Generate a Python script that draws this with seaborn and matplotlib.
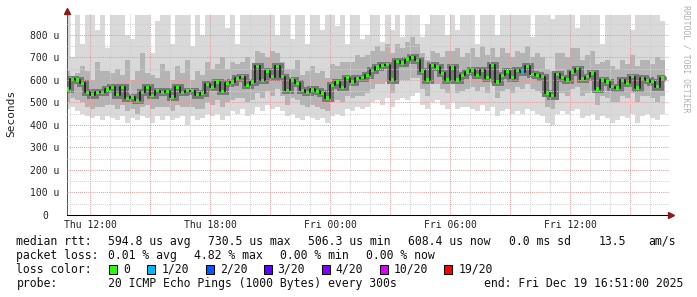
import numpy as np
import pandas as pd
import matplotlib
matplotlib.use("Agg")
import matplotlib.pyplot as plt
import matplotlib.dates as mdates
from matplotlib.patches import Rectangle
from matplotlib.ticker import MultipleLocator, FuncFormatter
import seaborn as sns

# ---------------- data ----------------
start_time = "2025-12-18 10:52:30"
sample_step = "15min"

median_us = [
    560, 602, 600, 585, 545, 535, 545, 545, 560, 567,
    535, 567, 518, 525, 510, 545, 567, 532, 552, 545,
    549, 525, 567, 545, 552, 552, 535, 540, 580, 567,
    590, 550, 585, 590, 607, 615, 576, 590, 660, 598,
    640, 615, 660, 615, 554, 600, 585, 554, 545, 558,
    550, 540, 520, 576, 590, 567, 610, 590, 607, 610,
    620, 642, 657, 665, 668, 600, 682, 675, 690, 700,
    687, 640, 600, 665, 657, 629, 600, 657, 600, 620,
    635, 645, 620, 642, 610, 665, 590, 620, 638, 610,
    642, 635, 660, 625, 620, 615, 540, 530, 625, 610,
    600, 635, 650, 605, 615, 630, 560, 600, 590, 570,
    565, 598, 585, 615, 565, 607, 598, 592, 570, 608,
]
max_us = [
    890, 700, 890, 760, 890, 890, 820, 890, 740, 890,
    890, 890, 800, 780, 890, 890, 890, 720, 860, 890,
    890, 760, 890, 890, 890, 750, 890, 800, 890, 890,
    890, 890, 830, 890, 760, 890, 890, 890, 890, 890,
    890, 890, 800, 890, 890, 780, 890, 890, 760, 890,
    890, 820, 890, 890, 840, 890, 760, 890, 890, 780,
    800, 890, 890, 770, 890, 820, 890, 790, 890, 890,
    890, 790, 850, 890, 890, 890, 800, 890, 820, 890,
    890, 890, 760, 890, 890, 890, 800, 890, 890, 890,
    890, 890, 890, 790, 890, 890, 890, 870, 890, 890,
    890, 890, 830, 890, 890, 890, 890, 760, 890, 890,
    890, 890, 890, 820, 890, 890, 890, 890, 890, 860,
]
upper_us = [
    640, 610, 630, 660, 640, 600, 680, 640, 640, 630,
    650, 620, 690, 600, 640, 720, 630, 620, 610, 670,
    640, 600, 660, 630, 690, 600, 640, 620, 680, 650,
    670, 700, 650, 680, 670, 680, 700, 650, 730, 720,
    700, 730, 720, 680, 650, 650, 690, 620, 640, 660,
    630, 640, 610, 670, 660, 680, 680, 680, 710, 700,
    710, 730, 750, 730, 760, 720, 760, 740, 770, 790,
    760, 720, 690, 730, 720, 700, 730, 730, 740, 700,
    720, 740, 700, 750, 710, 740, 700, 740, 720, 700,
    730, 720, 750, 700, 720, 700, 650, 640, 720, 720,
    700, 740, 740, 690, 710, 730, 670, 680, 690, 660,
    650, 690, 670, 710, 660, 690, 690, 670, 700, 690,
]
lower_us = [
    500, 520, 510, 500, 480, 470, 480, 480, 490, 490,
    470, 490, 460, 470, 450, 480, 490, 470, 480, 480,
    480, 460, 490, 480, 480, 480, 470, 470, 500, 490,
    510, 480, 500, 510, 520, 520, 500, 510, 540, 520,
    550, 530, 560, 530, 490, 520, 510, 490, 480, 490,
    480, 470, 460, 500, 510, 500, 530, 520, 530, 530,
    540, 560, 580, 580, 590, 540, 590, 600, 600, 610,
    610, 560, 530, 580, 580, 560, 540, 580, 540, 550,
    560, 570, 550, 570, 540, 580, 520, 550, 560, 540,
    570, 560, 580, 560, 550, 540, 480, 470, 540, 540,
    530, 560, 570, 530, 540, 550, 490, 530, 520, 500,
    500, 530, 520, 540, 500, 530, 530, 520, 500, 530,
]
min_us = [
    470, 480, 460, 450, 440, 430, 440, 420, 440, 430,
    420, 440, 410, 430, 420, 440, 430, 410, 440, 420,
    440, 420, 430, 440, 400, 440, 420, 430, 450, 440,
    450, 420, 440, 460, 450, 470, 440, 450, 480, 460,
    490, 470, 480, 460, 440, 450, 430, 420, 440, 430,
    420, 430, 410, 440, 450, 440, 470, 460, 480, 470,
    480, 500, 510, 490, 520, 480, 510, 520, 510, 530,
    540, 490, 470, 500, 510, 490, 470, 500, 470, 480,
    480, 470, 460, 490, 460, 480, 440, 460, 470, 450,
    460, 450, 470, 460, 450, 440, 410, 400, 450, 460,
    450, 460, 470, 430, 440, 450, 420, 440, 430, 410,
    420, 440, 430, 450, 410, 440, 450, 430, 420, 450,
]
loss_count = [
    0, 0, 0, 0, 0, 0, 0, 0, 0, 0,
    0, 0, 0, 0, 0, 0, 0, 0, 0, 0,
    0, 0, 0, 0, 0, 0, 0, 0, 0, 0,
    0, 0, 0, 0, 0, 0, 0, 0, 0, 0,
    0, 0, 0, 0, 0, 0, 0, 0, 0, 0,
    0, 0, 0, 0, 0, 0, 0, 0, 0, 0,
    0, 0, 0, 0, 0, 0, 0, 0, 0, 0,
    0, 0, 0, 0, 0, 0, 0, 0, 0, 0,
    0, 0, 0, 0, 0, 0, 0, 0, 0, 0,
    0, 1, 0, 0, 0, 0, 0, 0, 0, 0,
    0, 0, 0, 0, 0, 0, 0, 0, 0, 0,
    0, 0, 0, 0, 0, 0, 0, 0, 0, 0,
]

y_ticks = [0, 100, 200, 300, 400, 500, 600, 700, 800]
y_tick_labels = ["0", "100 u", "200 u", "300 u", "400 u", "500 u", "600 u", "700 u", "800 u"]
y_label = "Seconds"
x_start = "2025-12-18 10:51"
x_end = "2025-12-19 16:57"

loss_names = ["0", "1/20", "2/20", "3/20", "4/20", "10/20", "19/20"]
loss_colors = ["#26ff00", "#00b8ff", "#0059ff", "#5e00ff", "#7e00ff", "#dd00ff", "#ff0000"]

rtt_label = "median rtt:"
rtt_stats = ["594.8 us avg", "730.5 us max", "506.3 us min", "608.4 us now", "0.0 ms sd", "13.5", "am/s"]
loss_label = "packet loss:"
loss_stats = ["0.01 % avg", "4.82 % max", "0.00 % min", "0.00 % now"]
color_label = "loss color:"
probe_label = "probe:"
probe_text = "20 ICMP Echo Pings (1000 Bytes) every 300s"
end_text = "end: Fri Dec 19 16:51:00 2025"
watermark = "RRDTOOL / TOBI OETIKER"

# ---------------- figure ----------------
sns.set_style("white")
plt.rcParams["font.family"] = ["DejaVu Sans Mono", "DejaVu Sans"]

W, H = 697, 297
fig = plt.figure(figsize=(W / 100, H / 100), dpi=100)
fig.patch.set_facecolor("white")
ax = fig.add_axes([67 / W, (H - 215) / H, (669 - 67) / W, (215 - 14) / H])
ax.set_facecolor("white")

times = pd.date_range(start_time, periods=len(median_us), freq=sample_step)
df = pd.DataFrame({
    "time": times,
    "median": median_us,
    "max": max_us,
    "upper": upper_us,
    "lower": lower_us,
    "min": min_us,
    "loss": [loss_names[min(c, 6)] for c in loss_count],
})
width = pd.Timedelta(sample_step) / pd.Timedelta("1D")

# smoke
ax.bar(df["time"], df["max"] - df["min"], bottom=df["min"], width=width,
       color="#d9d9d9", linewidth=0, zorder=1)
ax.bar(df["time"], df["upper"] - df["lower"], bottom=df["lower"], width=width,
       color="#b4b4b4", linewidth=0, zorder=1.2)
ax.plot(df["time"], df["median"], drawstyle="steps-mid", color="#787878",
        lw=5, solid_joinstyle="miter", zorder=1.5)
ax.plot(df["time"], df["median"], drawstyle="steps-mid", color="#1a1a1a",
        lw=1.2, zorder=3)

palette = dict(zip(loss_names, loss_colors))
sns.scatterplot(data=df, x="time", y="median", hue="loss", palette=palette,
                marker="s", s=6, linewidth=0, legend=False, zorder=4, ax=ax)

# axes, ticks, grid
ax.set_xlim(pd.Timestamp(x_start), pd.Timestamp(x_end))
ax.set_ylim(0, 893)
ax.set_xlabel("")
ax.set_ylabel("")
ax.set_axisbelow(False)

ax.xaxis.set_major_locator(mdates.HourLocator(byhour=range(0, 24, 3)))
ax.xaxis.set_minor_locator(mdates.HourLocator())
def fmt(x, pos):
    d = mdates.num2date(x)
    return d.strftime("%a %H:%M") if d.hour % 6 == 0 else ""
ax.xaxis.set_major_formatter(FuncFormatter(fmt))

ax.set_yticks(y_ticks, labels=y_tick_labels)
ax.yaxis.set_minor_locator(MultipleLocator(50))

ax.grid(True, which="major", color="#e2a0a0", linestyle=(0, (1, 1)), lw=0.75)
ax.grid(True, which="minor", color="#d0d0d0", linestyle=(0, (1, 1)), lw=0.75)

ax.tick_params(axis="x", which="major", length=2.2, width=0.7, color="#d08080",
               pad=1.2, labelsize=7, labelcolor="#222222")
ax.tick_params(axis="x", which="minor", length=1.5, width=0.7, color="#b0b0b0")
ax.tick_params(axis="y", which="major", length=2.2, width=0.7, color="#d08080",
               pad=13.7, labelsize=7, labelcolor="#222222")
ax.tick_params(axis="y", which="minor", length=1.5, width=0.7, color="#b0b0b0")
for lbl in ax.get_yticklabels():
    lbl.set_horizontalalignment("center")

for s in ["top", "right"]:
    ax.spines[s].set_visible(False)
ax.spines["left"].set_color("#555555")
ax.spines["left"].set_linewidth(0.75)
ax.spines["bottom"].set_color("#000000")
ax.spines["bottom"].set_linewidth(0.75)

# axis arrows
ax.plot([0], [1.015], marker="^", ms=4, color="#8b1a1a", transform=ax.transAxes,
        clip_on=False, zorder=6)
ax.plot([1.004], [0], marker=">", ms=4, color="#8b1a1a", transform=ax.transAxes,
        clip_on=False, zorder=6)

# y label
fig.text(11 / W, 1 - 113 / H, y_label, rotation=90, ha="center", va="center",
         fontsize=8, color="#222222")

# watermark
fig.text(686 / W, 1 - 5 / H, watermark, rotation=270, ha="center", va="top",
         fontsize=5.9, color="#b0b0b0")

# legend lines
fs = 8.3
def ftxt(x, y, s, **kw):
    fig.text(x / W, 1 - y / H, s, fontsize=fs, color="#111111", va="baseline", **kw)

rtt_x = [108, 208.5, 308.5, 408.5, 509, 599, 648.7]
ftxt(16.5, 245, rtt_label)
for xx, s in zip(rtt_x, rtt_stats):
    ftxt(xx, 245, s)

loss_x = [108, 194, 280, 366]
ftxt(16.5, 259, loss_label)
for xx, s in zip(loss_x, loss_stats):
    ftxt(xx, 259, s)

ftxt(16.5, 273, color_label)
box_x = [108.5, 147, 205.5, 263.5, 321.5, 379.5, 444]
txt_x = [123.5, 161.6, 220, 277.7, 335.7, 393.7, 458.5]
for bx, tx, name, col in zip(box_x, txt_x, loss_names, loss_colors):
    fig.add_artist(Rectangle((bx / W, 1 - 273.5 / H), 8 / W, 9 / H,
                             transform=fig.transFigure, facecolor=col,
                             edgecolor="black", linewidth=0.75))
    ftxt(tx, 273, name)

ftxt(16.5, 287, probe_label)
ftxt(108, 287, probe_text)
ftxt(683, 287, end_text, ha="right")

fig.savefig("out.png", dpi=100, facecolor="white")
